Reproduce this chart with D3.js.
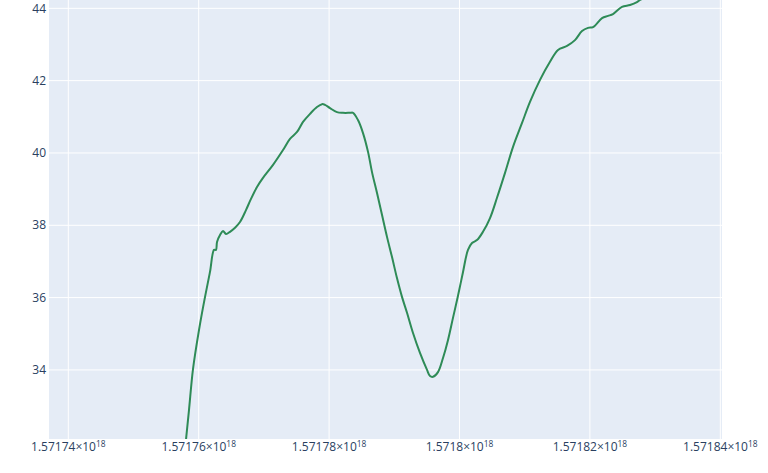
<!DOCTYPE html>
<html>
<head>
<meta charset="utf-8">
<script src="https://cdn.jsdelivr.net/npm/d3@7"></script>
<style>
  body { margin: 0; background: #fff; }
  svg { display: block; }
  text { font-family: "Open Sans", verdana, arial, sans-serif; }
</style>
</head>
<body>
<div id="chart"></div>
<script>
// x values are timestamps in ns (×10^18), y is the reading
const xVals = [
  1.5717577e18, 1.57175805e18, 1.57175851e18, 1.57175913e18, 1.57176005e18, 1.57176097e18,
  1.57176173e18, 1.57176235e18, 1.57176265e18, 1.57176281e18, 1.57176327e18, 1.57176373e18,
  1.57176419e18, 1.5717648e18, 1.57176557e18, 1.57176633e18, 1.57176725e18, 1.57176802e18,
  1.57176894e18, 1.57176986e18, 1.5717714e18, 1.57177293e18, 1.571774e18, 1.57177508e18,
  1.571776e18, 1.57177707e18, 1.57177814e18, 1.57177891e18, 1.57177937e18, 1.57178014e18,
  1.57178121e18, 1.57178213e18, 1.57178321e18, 1.57178367e18, 1.57178443e18, 1.5717852e18,
  1.57178597e18, 1.57178658e18, 1.57178735e18, 1.57178811e18, 1.57178888e18, 1.57178965e18,
  1.57179041e18, 1.57179118e18, 1.57179195e18, 1.57179287e18, 1.57179394e18, 1.57179502e18,
  1.57179548e18, 1.57179594e18, 1.5717967e18, 1.57179747e18, 1.57179824e18, 1.571799e18,
  1.57179977e18, 1.57180054e18, 1.5718013e18, 1.57180192e18, 1.57180268e18, 1.5718036e18,
  1.57180468e18, 1.57180575e18, 1.57180698e18, 1.57180821e18, 1.57180959e18, 1.57181081e18,
  1.57181235e18, 1.57181388e18, 1.57181511e18, 1.57181649e18, 1.57181771e18, 1.57181879e18,
  1.57181971e18, 1.57182048e18, 1.57182186e18, 1.57182278e18, 1.57182354e18, 1.57182492e18,
  1.57182615e18, 1.57182722e18, 1.57182768e18, 1.57182922e18
];
const yVals = [
  31.5, 32.07, 32.89, 34.03, 35.11, 36.02,
  36.71, 37.32, 37.32, 37.54, 37.73, 37.84,
  37.76, 37.82, 37.93, 38.09, 38.42, 38.73,
  39.06, 39.31, 39.67, 40.08, 40.39, 40.58,
  40.86, 41.08, 41.27, 41.35, 41.33, 41.24,
  41.13, 41.11, 41.11, 41.11, 40.91, 40.55,
  40.03, 39.47, 38.89, 38.29, 37.68, 37.12,
  36.54, 36.02, 35.58, 35.02, 34.47, 34.00,
  33.83, 33.81, 33.94, 34.33, 34.83, 35.44,
  36.05, 36.71, 37.32, 37.51, 37.59, 37.82,
  38.20, 38.76, 39.45, 40.17, 40.83, 41.41,
  42.02, 42.52, 42.85, 42.96, 43.12, 43.37,
  43.46, 43.48, 43.73, 43.79, 43.84, 44.04,
  44.09, 44.17, 44.23, 44.37
];
const xTicks = [1.57174e18, 1.57176e18, 1.57178e18, 1.5718e18, 1.57182e18, 1.57184e18];
const yTicks = [34, 36, 38, 40, 42, 44];

const width = 768, height = 473;
const margin = {top: 0, right: 46, bottom: 34, left: 49};
const plotW = width - margin.left - margin.right;
const plotH = height - margin.top - margin.bottom;

const svg = d3.select("#chart").append("svg")
  .attr("width", width)
  .attr("height", height);

let xScale = d3.scaleLinear()
  .domain([1.57173704e18, 1.57184026e18])
  .range([0, plotW]);
let yScale = d3.scaleLinear()
  .domain([32.09, 44.23])
  .range([plotH, 0]);

const g = svg.append("g")
  .attr("transform", `translate(${margin.left}, ${margin.top})`);

g.append("rect")
  .attr("width", plotW)
  .attr("height", plotH)
  .attr("fill", "#E5ECF6");

g.append("clipPath")
  .attr("id", "clip")
  .append("rect")
  .attr("width", plotW)
  .attr("height", plotH);

// grid
g.selectAll(".xgrid")
  .data(xTicks)
  .join("line")
  .attr("class", "xgrid")
  .attr("x1", d => xScale(d))
  .attr("x2", d => xScale(d))
  .attr("y1", 0)
  .attr("y2", plotH)
  .attr("stroke", "#fff")
  .attr("stroke-width", 1);
g.selectAll(".ygrid")
  .data(yTicks)
  .join("line")
  .attr("class", "ygrid")
  .attr("x1", 0)
  .attr("x2", plotW)
  .attr("y1", d => yScale(d))
  .attr("y2", d => yScale(d))
  .attr("stroke", "#fff")
  .attr("stroke-width", 1);

const pts = xVals.map((x, i) => [x, yVals[i]]);
const line = d3.line()
  .x(d => xScale(d[0]))
  .y(d => yScale(d[1]))
  .curve(d3.curveCatmullRom.alpha(0.5));

g.append("path")
  .datum(pts)
  .attr("clip-path", "url(#clip)")
  .attr("fill", "none")
  .attr("stroke", "#2e8b57")
  .attr("stroke-width", 2)
  .attr("stroke-linejoin", "round")
  .attr("d", line);

// y tick labels
g.selectAll(".ylab")
  .data(yTicks)
  .join("text")
  .attr("class", "ylab")
  .attr("x", -3)
  .attr("y", d => yScale(d))
  .attr("dy", "0.35em")
  .attr("text-anchor", "end")
  .attr("font-size", 12)
  .attr("fill", "#2a3f5f")
  .text(d => d);

// x tick labels with ×10^18
const mant = v => (v / 1e18).toFixed(5).replace(/0+$/, "");
const xl = g.selectAll(".xlab")
  .data(xTicks)
  .join("text")
  .attr("class", "xlab")
  .attr("x", d => xScale(d))
  .attr("y", plotH + 12)
  .attr("text-anchor", "middle")
  .attr("font-size", 12)
  .attr("fill", "#2a3f5f");
xl.append("tspan").text(d => mant(d) + "×10");
xl.append("tspan")
  .attr("font-size", 8.4)
  .attr("dy", "-0.5em")
  .text("18");
</script>
</body>
</html>
